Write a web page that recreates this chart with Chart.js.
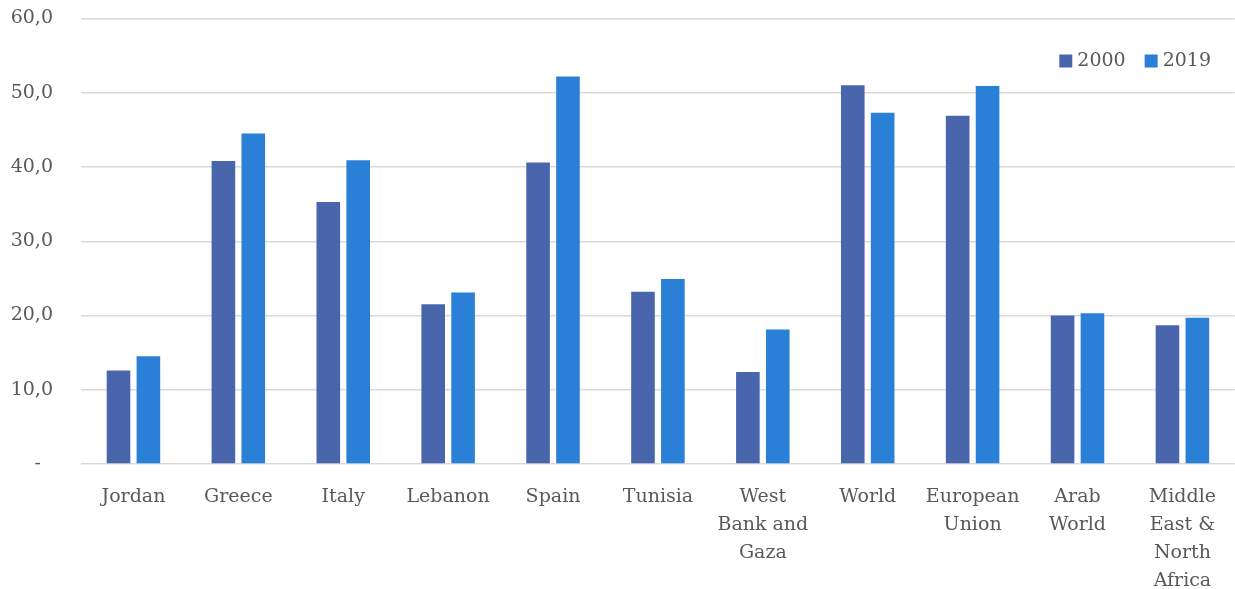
<!DOCTYPE html>
<html>
<head>
<meta charset="utf-8">
<script src="https://cdn.jsdelivr.net/npm/chart.js@4/dist/chart.umd.min.js"></script>
<style>
html,body{margin:0;padding:0;background:#fff;}
#wrap{width:1235px;height:589px;position:relative;}
</style>
</head>
<body>
<div id="wrap"><canvas id="c" width="1235" height="589"></canvas></div>
<script>
const categories = [
  'Jordan', 'Greece', 'Italy', 'Lebanon', 'Spain', 'Tunisia',
  ['West', 'Bank and', 'Gaza'], 'World', ['European', 'Union'],
  ['Arab', 'World'], ['Middle', 'East &', 'North', 'Africa']
];
const seriesNames = ['2000', '2019'];
const values2000 = [12.6, 40.8, 35.3, 21.5, 40.6, 23.2, 12.4, 51.0, 46.9, 20.0, 18.7];
const values2019 = [14.5, 44.5, 40.9, 23.1, 52.2, 24.9, 18.1, 47.3, 50.9, 20.3, 19.7];
const yTicks = [0, 10, 20, 30, 40, 50, 60];

const FONT = '"DejaVu Serif", "Liberation Serif", serif';
const TEXT = '#595959';

const legendPlugin = {
  id: 'customLegend',
  afterDraw(chart) {
    const ctx = chart.ctx;
    ctx.save();
    ctx.font = '19px ' + FONT;
    ctx.textBaseline = 'middle';
    ctx.textAlign = 'left';
    const ds = chart.data.datasets;
    const box = 13, gapBoxText = 5, gapItems = 19;
    let total = 0;
    const widths = ds.map(d => ctx.measureText(d.label).width);
    widths.forEach((w, i) => { total += box + gapBoxText + w + (i < ds.length - 1 ? gapItems : 0); });
    let x = 1211 - total;
    const yc = 61;
    ds.forEach((d, i) => {
      ctx.fillStyle = d.backgroundColor;
      ctx.fillRect(x, yc - box / 2, box, box);
      x += box + gapBoxText;
      ctx.fillStyle = TEXT;
      ctx.fillText(d.label, x, yc);
      x += widths[i] + gapItems;
    });
    ctx.restore();
  }
};

new Chart(document.getElementById('c'), {
  type: 'bar',
  data: {
    labels: categories,
    datasets: [
      { label: seriesNames[0], data: values2000, backgroundColor: '#4966AD',
        categoryPercentage: 0.57, barPercentage: 0.79 },
      { label: seriesNames[1], data: values2019, backgroundColor: '#2A7FD6',
        categoryPercentage: 0.57, barPercentage: 0.79 }
    ]
  },
  options: {
    responsive: false,
    animation: false,
    layout: { padding: { left: 10, top: 18.5, right: 0, bottom: 0 } },
    plugins: {
      legend: { display: false },
      tooltip: { enabled: false }
    },
    scales: {
      x: {
        grid: { display: false, drawTicks: false },
        border: { display: false },
        ticks: {
          color: TEXT, font: { family: FONT, size: 19, lineHeight: 1.47 },
          maxRotation: 0, minRotation: 0, autoSkip: false, padding: 19
        },
        afterFit(scale) { scale.height = 125; }
      },
      y: {
        min: 0, max: 60,
        afterBuildTicks(scale) { scale.ticks = yTicks.map(v => ({ value: v })); },
        grid: { color: '#D9D9D9', lineWidth: 1.5, drawTicks: true, tickLength: 28, tickColor: 'rgba(0,0,0,0)' },
        border: { display: false },
        ticks: {
          color: TEXT, font: { family: FONT, size: 19 }, padding: 0,
          callback: v => v === 0 ? '-  ' : v.toFixed(1).replace('.', ',')
        },
        afterFit(scale) { scale.width = 71; }
      }
    }
  },
  plugins: [legendPlugin]
});
</script>
</body>
</html>
